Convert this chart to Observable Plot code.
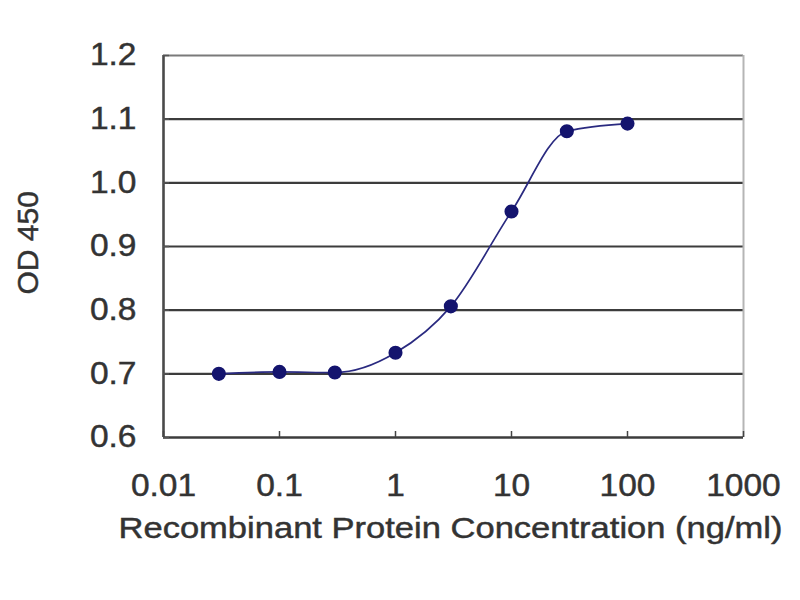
<!DOCTYPE html>
<html>
<head>
<meta charset="utf-8">
<script src="https://cdn.jsdelivr.net/npm/d3@7"></script>
<script src="https://cdn.jsdelivr.net/npm/@observablehq/plot@0.6"></script>
<style>
  html, body { margin: 0; padding: 0; background: #fff; }
  svg { display: block; }
</style>
</head>
<body>
<div id="chart"></div>
<script>
// Data
const concentration = [0.03, 0.1, 0.3, 1, 3, 10, 30, 100];
const od450 = [0.700, 0.703, 0.702, 0.733, 0.806, 0.955, 1.081, 1.093];
const xTicks = [0.01, 0.1, 1, 10, 100, 1000];
const xTickLabels = ["0.01", "0.1", "1", "10", "100", "1000"];
const yTicks = [0.6, 0.7, 0.8, 0.9, 1.0, 1.1, 1.2];
const yGrid = [0.7, 0.8, 0.9, 1.0, 1.1];
const xTitle = "Recombinant Protein Concentration (ng/ml)";
const yTitle = "OD 450";

const points = concentration.map((c, i) => ({c, od: od450[i]}));

const W = 800, H = 600;
const mL = 163, mR = 57, mT = 55, mB = 163;
const plotW = W - mL - mR, plotH = H - mT - mB;
const textColor = "#333";
const navy = "#14146e";

const chart = Plot.plot({
  width: W,
  height: H,
  marginLeft: mL,
  marginRight: mR,
  marginTop: mT,
  marginBottom: mB,
  style: {fontFamily: "'Liberation Sans', Arial, sans-serif", background: "#fff"},
  x: {type: "log", domain: [0.01, 1000]},
  y: {domain: [0.6, 1.2]},
  marks: [
    // gridlines
    Plot.ruleY(yGrid, {stroke: "#3c3c3c", strokeWidth: 2.2}),
    Plot.ruleY([1.2], {stroke: "#7a7a7a", strokeWidth: 1.8}),
    // right border (light)
    Plot.ruleX([1000], {stroke: "#b5b5b5", strokeWidth: 2}),
    // left and bottom axis lines
    Plot.ruleX([0.01], {stroke: "#4a4a4a", strokeWidth: 2.6}),
    Plot.ruleY([0.6], {stroke: "#3c3c3c", strokeWidth: 2.6}),
    // inward x ticks
    Plot.tickX(xTicks, {x: d => d, stroke: "#444", strokeWidth: 1.5, insetTop: plotH - 6}),
    // inward y ticks
    Plot.tickY(yTicks, {y: d => d, stroke: "#555", strokeWidth: 1.5, insetRight: plotW - 6}),
    // axes labels
    Plot.axisX(xTicks, {
      tickSize: 0, tickPadding: 36, tickFormat: d => xTickLabels[xTicks.indexOf(d)],
      fontSize: 31, fill: textColor, label: null
    }),
    Plot.axisY(yTicks, {
      tickSize: 0, tickPadding: 27, tickFormat: d => d.toFixed(1),
      fontSize: 31, fill: textColor, label: null
    }),
    // curve and points
    Plot.line(points, {x: "c", y: "od", stroke: "#2a2a80", strokeWidth: 1.7, curve: "monotone-x"}),
    Plot.dot(points, {x: "c", y: "od", r: 6.3, fill: navy, stroke: navy}),
    // titles
    Plot.text([xTitle], {frameAnchor: "bottom", dx: -3, dy: 100, fontSize: 29, fill: textColor, text: d => d}),
    Plot.text([yTitle], {frameAnchor: "left", dx: -135, dy: 48, rotate: -90, fontSize: 30, fill: textColor, text: d => d})
  ]
});

document.getElementById("chart").appendChild(chart);

// Slightly heavier, wider glyphs to match the reference's rendering
const tickLabelSet = new Set([...xTickLabels, ...yTicks.map(d => d.toFixed(1))]);
d3.select(chart).selectAll("text").each(function() {
  const t = this.textContent;
  this.style.stroke = textColor;
  this.style.strokeWidth = "0.45px";
  if (t === xTitle) {
    this.setAttribute("textLength", 664);
    this.setAttribute("lengthAdjust", "spacingAndGlyphs");
  } else if (tickLabelSet.has(t) && this.children.length === 0) {
    const len = this.getComputedTextLength();
    this.setAttribute("textLength", (len * 1.08).toFixed(1));
    this.setAttribute("lengthAdjust", "spacingAndGlyphs");
  }
});
</script>
</body>
</html>
